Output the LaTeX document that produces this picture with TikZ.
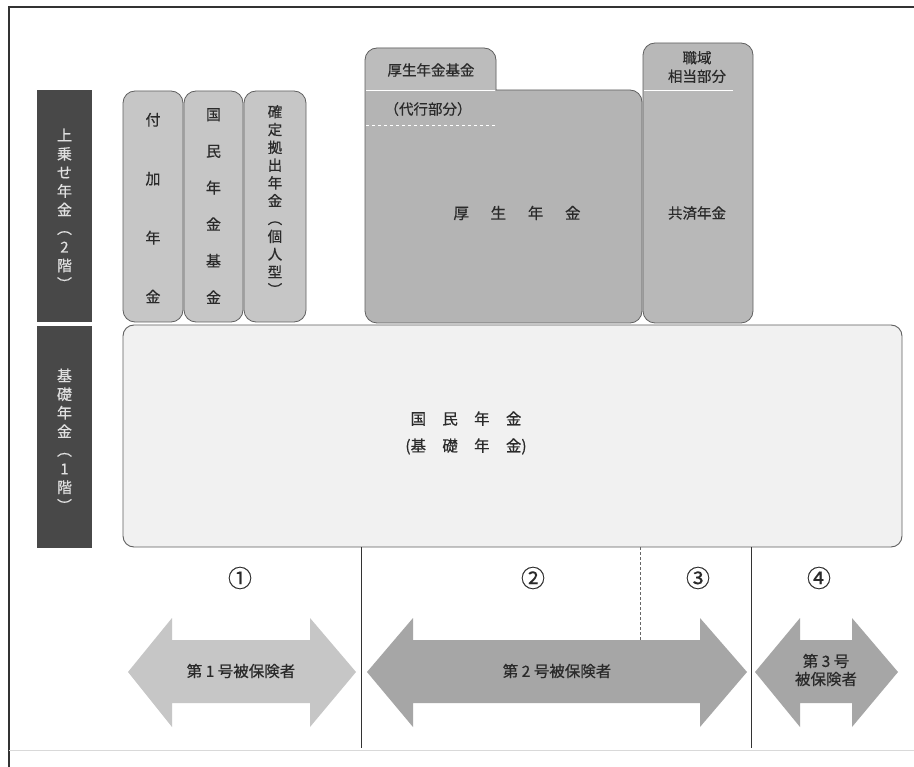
\documentclass[tikz,border=0pt]{standalone}
\usepackage{graphicx}
\usepackage{fontspec}
\setmainfont{Noto Sans CJK JP}[FakeBold=0.45]
\newcommand\vlpar{\rotatebox[origin=c]{-90}{（}}
\newcommand\vrpar{\rotatebox[origin=c]{-90}{）}}
\begin{document}
\begin{tikzpicture}[x=1pt,y=-1pt,
  darktext/.style={text=white!88!black,align=center,inner sep=0pt},
  smallbox/.style={fill=pillfill,draw=boxline,line width=0.8pt,rounded corners=12pt},
  bigbox/.style={fill=basefill,draw=boxline,line width=0.9pt,rounded corners=11pt},
  boxtext/.style={text=txt,align=center,inner sep=0pt},
  divider/.style={draw=black!80,line width=0.7pt},
  numtext/.style={text=txt,font=\fontsize{24}{26}\selectfont,inner sep=0pt},
]
\definecolor{darkbox}{HTML}{484848}
\definecolor{pillfill}{HTML}{C6C6C6}
\definecolor{kofill}{HTML}{B4B4B4}
\definecolor{tabfill}{HTML}{BCBCBC}
\definecolor{kyofill}{HTML}{B8B8B8}
\definecolor{basefill}{HTML}{F1F1F1}
\definecolor{boxline}{HTML}{606060}
\definecolor{txt}{HTML}{2A2A2A}
\definecolor{arrowlight}{HTML}{C6C6C6}
\definecolor{arrowdark}{HTML}{A6A6A6}

\useasboundingbox (0,0) rectangle (914,767);
\fill[white] (0,0) rectangle (914,767);

% frame
\draw[line width=1.4pt,draw=black!80] (9,767) -- (9,7) -- (914,7);
\draw[line width=0.5pt,draw=black!15] (9,750) -- (914,750);

% dark side labels
\fill[darkbox] (37,90) rectangle (92,322);
\node[darktext,font=\fontsize{15}{18.6}\selectfont] (lab2) at (64.5,210)
  {上\\乗\\せ\\年\\金\\\vlpar\\2\\階\\\vrpar};
\fill[darkbox] (37,326) rectangle (92,548);
\node[darktext,font=\fontsize{15}{18.6}\selectfont] (lab1) at (64.5,441)
  {基\\礎\\年\\金\\\vlpar\\1\\階\\\vrpar};

% base box
\draw[bigbox] (123,325) rectangle (902,547);
\node[boxtext,font=\fontsize{15.5}{27}\selectfont] (kokumin) at (466,433)
  {\hphantom{(}国\hspace{1.05em}民\hspace{1.05em}年\hspace{1.05em}金\hphantom{)}\\(基\hspace{1.05em}礎\hspace{1.05em}年\hspace{1.05em}金)};

% small pill boxes
\draw[smallbox] (123,91) rectangle (183,322);
\node[boxtext,font=\fontsize{15}{59}\selectfont] (fuka) at (153,208) {付\\加\\年\\金};
\draw[smallbox] (184,91) rectangle (243,322);
\node[boxtext,font=\fontsize{15}{36.6}\selectfont] (kikin) at (213.5,206) {国\\民\\年\\金\\基\\金};
\draw[smallbox] (244,91) rectangle (306,322);
\node[boxtext,font=\fontsize{14.5}{17.8}\selectfont] (kakutei) at (275,201)
  {確\\定\\拠\\出\\年\\金\\\vlpar\\個\\人\\型\\\vrpar};

% kosei nenkin with tab
\fill[kofill,rounded corners=12pt]
  (496,90) -- (642,90) -- (642,323) -- (365,323) -- (365,48) -- (496,48) -- (496,90);
\fill[tabfill,rounded corners=12pt] (496,90) -- (496,48) -- (365,48) -- (365,90);
\draw[draw=boxline,line width=0.8pt,rounded corners=12pt]
  (496,90) -- (642,90) -- (642,323) -- (365,323) -- (365,48) -- (496,48) -- (496,90);
\draw[white,line width=0.9pt] (366,90) -- (495,90);
\draw[white,line width=0.8pt,dashed] (366,125) -- (496,125);
\node[boxtext,font=\fontsize{14.5}{16}\selectfont] (kikintab) at (431,70) {厚生年金基金};
\node[boxtext,font=\fontsize{14.5}{16}\selectfont] (daiko) at (428,109) {（代行部分）};
\node[boxtext,font=\fontsize{15.5}{16}\selectfont] (kosei) at (517,213)
  {厚\hspace{1.4em}生\hspace{1.4em}年\hspace{1.4em}金};

% kyosai nenkin
\draw[fill=kyofill,draw=boxline,line width=0.8pt,rounded corners=12pt] (643,43) rectangle (753,323);
\draw[white,line width=0.9pt] (644,90) -- (733,90);
\node[boxtext,font=\fontsize{14.5}{18.5}\selectfont] (shokuiki) at (697,67) {職域\\相当部分};
\node[boxtext,font=\fontsize{14.5}{16}\selectfont] (kyosai) at (697,213) {共済年金};

% dividers
\coordinate (d1t) at (361,547); \coordinate (d1b) at (361,748);
\coordinate (d2t) at (751,547); \coordinate (d2b) at (751,748);
\coordinate (d3t) at (640,547); \coordinate (d3b) at (640,640);
\draw[divider] (d1t) -- (d1b);
\draw[divider] (d2t) -- (d2b);
\draw[draw=black!60,line width=0.7pt,densely dashed] (d3t) -- (d3b);

% circled numbers
\node[numtext] (n1) at (240,578) {①};
\node[numtext] (n2) at (533,578) {②};
\node[numtext] (n3) at (698,578) {③};
\node[numtext] (n4) at (819,578) {④};

% double arrows
\fill[arrowlight] (128,672) -- (172,618) -- (172,640) -- (310,640) -- (310,618) -- (356,672)
  -- (310,727) -- (310,703) -- (172,703) -- (172,727) -- cycle;
\fill[arrowdark] (367,672) -- (413,618) -- (413,640) -- (700,640) -- (700,618) -- (747,672)
  -- (700,727) -- (700,703) -- (413,703) -- (413,727) -- cycle;
\fill[arrowdark] (755,672) -- (800,618) -- (800,640) -- (852,640) -- (852,618) -- (898,672)
  -- (852,727) -- (852,703) -- (800,703) -- (800,727) -- cycle;
\node[boxtext,font=\fontsize{15.5}{16}\selectfont] (ins1) at (241,671) {第 1 号被保険者};
\node[boxtext,font=\fontsize{15.5}{16}\selectfont] (ins2) at (557,671) {第 2 号被保険者};
\node[boxtext,font=\fontsize{15.5}{18}\selectfont] (ins3) at (826,670) {第 3 号\\被保険者};
\end{tikzpicture}
\end{document}
